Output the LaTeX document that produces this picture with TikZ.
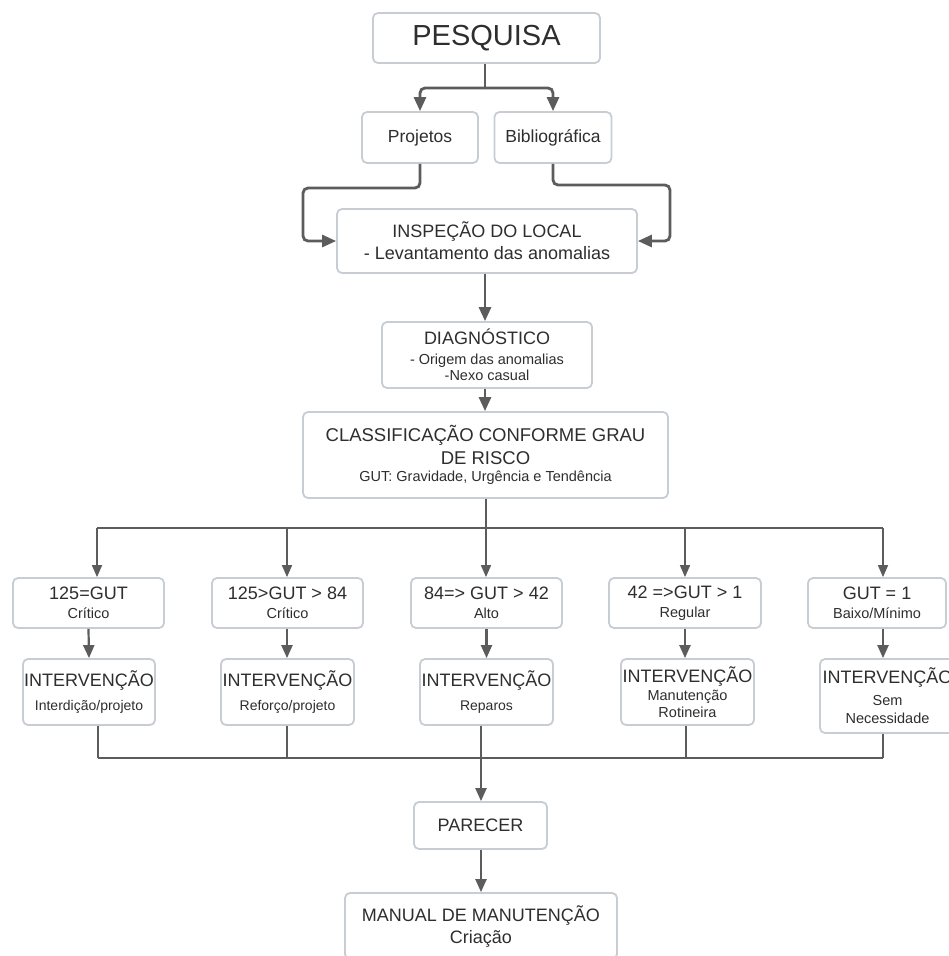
\documentclass[tikz,border=0pt]{standalone}
\usepackage{fontspec}
\setmainfont{Liberation Sans}
\usetikzlibrary{arrows.meta}
\definecolor{boxline}{HTML}{C8CDD3}
\definecolor{conn}{HTML}{5C5C5C}
\definecolor{txt}{HTML}{2E2E2E}
\newcommand{\fsz}[2]{\fontsize{#1}{#2}\selectfont}
\tikzset{
  boxnode/.style={draw=boxline, line width=1.8pt, rounded corners=5pt, fill=white,
    text=txt, align=center, inner sep=0pt, minimum width=#1},
  boxnode/.default=100pt,
  bskip/.style={font=\fontsize{18}{#1}\selectfont},
  thickc/.style={draw=conn, line width=2.8pt, -{Triangle[length=14pt,width=12pt]}, rounded corners=5pt},
  thickl/.style={draw=conn, line width=2.8pt, rounded corners=5pt},
  medc/.style={draw=conn, line width=2.2pt, -{Triangle[length=13pt,width=11pt]}},
  thinl/.style={draw=conn, line width=1.6pt},
  thinc/.style={draw=conn, line width=1.6pt, -{Triangle[length=12pt,width=10pt]}},
}
\begin{document}
\begin{tikzpicture}[x=1pt,y=-1pt]
\useasboundingbox (0,0) rectangle (949,956);
\clip (0,0) rectangle (949,956);
\fill[white] (0,0) rectangle (949,956);

% nodes
\node[boxnode=227pt, minimum height=50pt, font=\fsz{29}{30}] (pes) at (486.5,38) {PESQUISA};
\node[boxnode=116pt, minimum height=51pt, font=\fsz{17.5}{20}] (proj) at (420,137.5) {Projetos};
\node[boxnode=117pt, minimum height=51pt, font=\fsz{17.5}{20}] (bib) at (553,137.5) {Bibliográfica};
\node[boxnode=300pt, minimum height=64pt, bskip=22pt] (insp) at (487,241)
  {INSPEÇÃO DO LOCAL\\- Levantamento das anomalias};
\node[boxnode=210pt, minimum height=66pt, bskip=16pt] (diag) at (487,355)
  {DIAGNÓSTICO\\[4pt]\fsz{14.5}{16}- Origem das anomalias\\\fsz{14.5}{16}-Nexo casual};
\node[boxnode=365pt, minimum height=86pt, bskip=17pt] (class) at (485.5,455)
  {\fsz{18.5}{17}CLASSIFICAÇÃO CONFORME GRAU\\[6pt]\fsz{18.5}{17}DE RISCO\\\fsz{14.5}{17}GUT: Gravidade, Urgência e Tendência};

\node[boxnode=151pt, minimum height=50pt, bskip=19pt] (g1) at (88.5,603) {125=GUT\\\fsz{14.5}{19}Crítico};
\node[boxnode=151pt, minimum height=50pt, bskip=19pt] (g2) at (287.5,603) {125>GUT > 84\\\fsz{14.5}{19}Crítico};
\node[boxnode=151pt, minimum height=50pt, bskip=19pt] (g3) at (486.5,603) {84=> GUT > 42\\\fsz{14.5}{19}Alto};
\node[boxnode=152pt, minimum height=50pt, bskip=19pt] (g4) at (685,603) {42 =>GUT > 1\\\fsz{14.5}{19}Regular};
\node[boxnode=138pt, minimum height=50pt, bskip=19pt] (g5) at (877,603) {GUT = 1\\\fsz{14.5}{19}Baixo/Mínimo};

\node[boxnode=132pt, minimum height=66pt, bskip=24pt] (i1) at (89,692) {INTERVENÇÃO\\\fsz{14}{24}Interdição/projeto};
\node[boxnode=133pt, minimum height=66pt, bskip=24pt] (i2) at (287.5,692) {INTERVENÇÃO\\\fsz{14}{24}Reforço/projeto};
\node[boxnode=133pt, minimum height=66pt, bskip=24pt] (i3) at (486.5,692) {INTERVENÇÃO\\\fsz{14}{24}Reparos};
\node[boxnode=133pt, minimum height=66pt, bskip=17.5pt] (i4) at (687.5,692) {INTERVENÇÃO\\[0.5pt]\fsz{14.5}{17.5}Manutenção\\\fsz{14.5}{17.5}Rotineira};
\node[boxnode=135pt, minimum height=74pt, bskip=18.3pt] (i5) at (887.5,696) {INTERVENÇÃO\\[3.5pt]\fsz{14.5}{18.3}Sem\\\fsz{14.5}{18.3}Necessidade};

\node[boxnode=133pt, minimum height=47pt, font=\fsz{18}{20}] (par) at (480.5,825.5) {PARECER};
\node[boxnode=272pt, minimum height=66pt, bskip=22pt] (man) at (481,926) {MANUAL DE MANUTENÇÃO\\Criação};

% coordinates
\coordinate (j1) at (485,88);
\coordinate (cl) at (303,188);
\coordinate (cr) at (670,185);
\coordinate (bt) at (486,528);
\coordinate (b1) at (97,528);
\coordinate (b2) at (287,528);
\coordinate (b3) at (486,528);
\coordinate (b4) at (685,528);
\coordinate (b5) at (883,528);
\coordinate (d1) at (98,758);
\coordinate (d2) at (287,758);
\coordinate (d3) at (481,758);
\coordinate (d4) at (686,758);
\coordinate (d5) at (883,758);

% top connectors
\draw[thickl] (pes.south -| j1) -- (j1);
\draw[thickc] (j1) -| (proj.north);
\draw[thickc] (j1) -| (bib.north);
\draw[thickc] (proj.south) |- (cl) |- (insp.west);
\draw[thickc] (bib.south) |- (cr) |- (insp.east);
\draw[thickc] (insp.south -| j1) -- (diag.north -| j1);
\draw[thickc] (diag.south -| j1) -- (class.north -| j1);

% bus top
\draw[thinl] (class.south -| bt) -- (bt);
\draw[thinl] (b1) -- (b5);
\draw[thinc] (b1) -- (b1 |- g1.north);
\draw[thinc] (b2) -- (b2 |- g2.north);
\draw[thinc] (b3) -- (b3 |- g3.north);
\draw[thinc] (b4) -- (b4 |- g4.north);
\draw[thinc] (b5) -- (b5 |- g5.north);

% g -> i
\draw[medc] (g1.south) -- (i1.north);
\draw[medc] (g2.south -| b2) -- (i2.north -| b2);
\draw[medc] (g3.south) -- (i3.north);
\draw[medc] (g4.south -| b4) -- (i4.north -| b4);
\draw[medc] (g5.south -| b5) -- (i5.north -| b5);

% bus bottom
\draw[thinl] (i1.south -| d1) -- (d1);
\draw[thinl] (i2.south -| d2) -- (d2);
\draw[thinl] (i4.south -| d4) -- (d4);
\draw[thinl] (i5.south -| d5) -- (d5);
\draw[draw=conn, line width=2pt] (d1) -- (d5);
\draw[medc] (i3.south -| d3) -- (par.north -| d3);
\draw[medc] (par.south -| d3) -- (man.north -| d3);
\end{tikzpicture}
\end{document}
